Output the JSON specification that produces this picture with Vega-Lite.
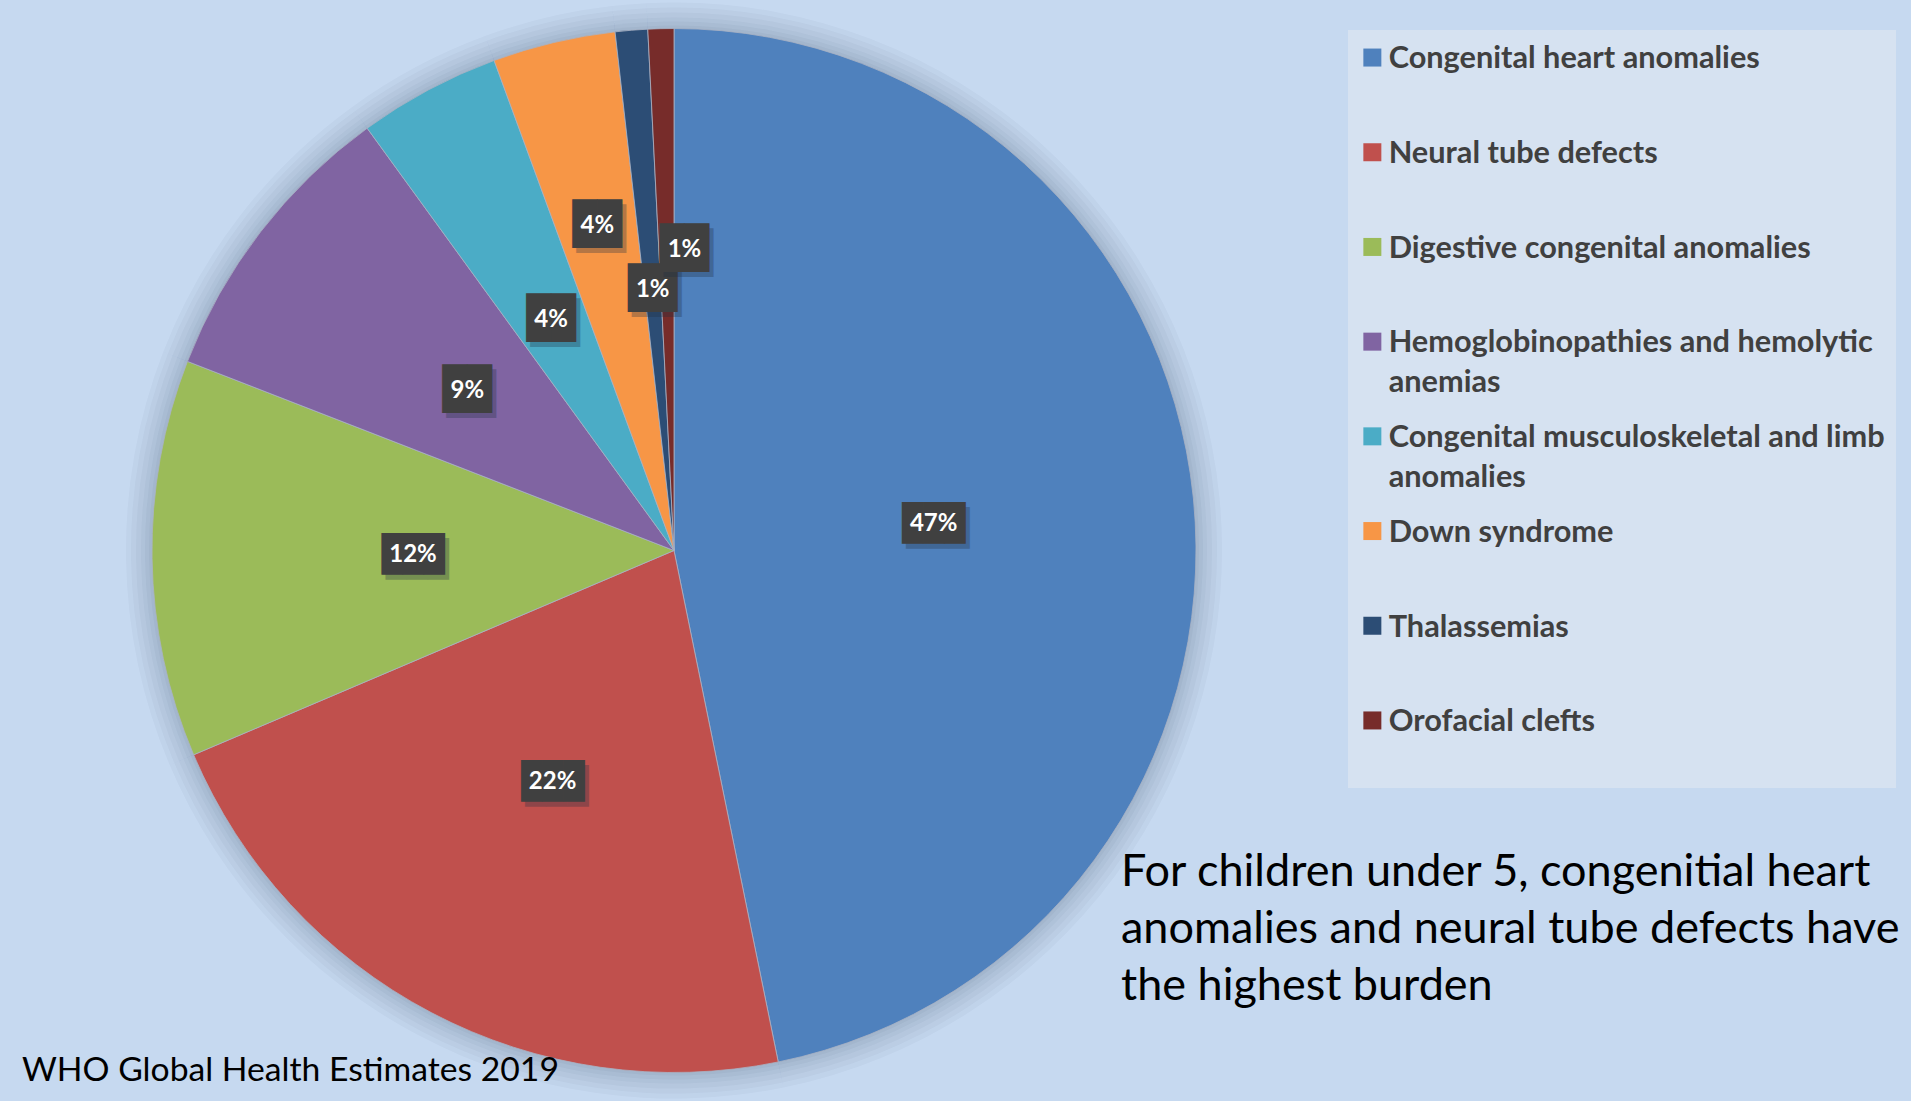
{
  "$schema": "https://vega.github.io/schema/vega-lite/v6.json",
  "width": 1348,
  "height": 1101,
  "autosize": {"type": "none"},
  "padding": {"left": 0, "top": 0, "right": 563, "bottom": 0},
  "background": "#c6d9f0",
  "config": {"view": {"stroke": null}, "style": {"guide-label": {"lineHeight": 40}}},
  "datasets": {
    "causes": [
      {"cause": "Congenital heart anomalies", "share": 0.468, "rank": 1},
      {"cause": "Neural tube defects", "share": 0.218, "rank": 2},
      {"cause": "Digestive congenital anomalies", "share": 0.123, "rank": 3},
      {"cause": "Hemoglobinopathies and hemolytic anemias", "share": 0.091, "rank": 4},
      {"cause": "Congenital musculoskeletal and limb anomalies", "share": 0.044, "rank": 5},
      {"cause": "Down syndrome", "share": 0.038, "rank": 6},
      {"cause": "Thalassemias", "share": 0.010, "rank": 7},
      {"cause": "Orofacial clefts", "share": 0.008, "rank": 8}
    ]
  },
  "data": {"name": "causes"},
  "layer": [
    {
      "mark": {"type": "arc", "outerRadius": 548, "color": "#1c2c48", "opacity": 0.03},
      "encoding": {
        "theta": {"field": "share", "type": "quantitative", "stack": true},
        "order": {"field": "rank", "type": "quantitative"}
      }
    },
    {
      "mark": {"type": "arc", "outerRadius": 543, "color": "#1c2c48", "opacity": 0.03},
      "encoding": {
        "theta": {"field": "share", "type": "quantitative", "stack": true},
        "order": {"field": "rank", "type": "quantitative"}
      }
    },
    {
      "mark": {"type": "arc", "outerRadius": 538, "color": "#1c2c48", "opacity": 0.035},
      "encoding": {
        "theta": {"field": "share", "type": "quantitative", "stack": true},
        "order": {"field": "rank", "type": "quantitative"}
      }
    },
    {
      "mark": {"type": "arc", "outerRadius": 533, "color": "#1c2c48", "opacity": 0.035},
      "encoding": {
        "theta": {"field": "share", "type": "quantitative", "stack": true},
        "order": {"field": "rank", "type": "quantitative"}
      }
    },
    {
      "mark": {"type": "arc", "outerRadius": 529, "color": "#1c2c48", "opacity": 0.04},
      "encoding": {
        "theta": {"field": "share", "type": "quantitative", "stack": true},
        "order": {"field": "rank", "type": "quantitative"}
      }
    },
    {
      "mark": {"type": "arc", "outerRadius": 525, "color": "#1c2c48", "opacity": 0.04},
      "encoding": {
        "theta": {"field": "share", "type": "quantitative", "stack": true},
        "order": {"field": "rank", "type": "quantitative"}
      }
    },
    {
      "mark": {"type": "arc", "outerRadius": 522, "stroke": "#a9b3c4", "strokeWidth": 0.8},
      "encoding": {
        "theta": {"field": "share", "type": "quantitative", "stack": true},
        "order": {"field": "rank", "type": "quantitative"},
        "color": {
          "field": "cause",
          "type": "nominal",
          "scale": {
            "domain": ["Congenital heart anomalies", "Neural tube defects", "Digestive congenital anomalies", "Hemoglobinopathies and hemolytic anemias", "Congenital musculoskeletal and limb anomalies", "Down syndrome", "Thalassemias", "Orofacial clefts"],
            "range": ["#4f81bd", "#c0504d", "#9bbb59", "#8064a2", "#4bacc6", "#f79646", "#2c4d75", "#772c2a"]
          },
          "legend": {
            "title": " ",
            "titleFontSize": 2,
            "titlePadding": 10,
            "orient": "none",
            "legendX": 1348,
            "legendY": 30,
            "direction": "vertical",
            "fillColor": "#d6e2f1",
            "padding": 11,
            "rowPadding": 22.7,
            "symbolType": "M-1,-2.2L1,-2.2L1,-0.2L-1,-0.2Z",
            "symbolSize": 324,
            "symbolOffset": -2,
            "symbolStrokeWidth": 0,
            "symbolOpacity": 1,
            "labelFont": "Lato",
            "labelFontWeight": "bold",
            "labelFontSize": 30.7,
            "labelColor": "#404040",
            "labelLimit": 800,
            "labelOffset": 1,
            "labelBaseline": "alphabetic",
            "labelExpr": "datum.label === 'Hemoglobinopathies and hemolytic anemias' ? ['Hemoglobinopathies and hemolytic', 'anemias'] : datum.label === 'Congenital musculoskeletal and limb anomalies' ? ['Congenital musculoskeletal and limb', 'anomalies'] : [datum.label, ' ']"
          }
        }
      }
    },
    {
      "mark": {"type": "text", "radius": 261, "font": "DejaVu Sans Mono", "baseline": "middle", "align": "center", "color": "#1f2d40", "dx": 4, "dy": 5},
      "encoding": {
        "theta": {"field": "share", "type": "quantitative", "stack": true},
        "order": {"field": "rank", "type": "quantitative"},
        "text": {"condition": {"test": "datum.share >= 0.095", "value": "███"}, "value": "██"},
        "size": {"condition": {"test": "datum.share >= 0.095", "value": 35}, "value": 41},
        "opacity": {"condition": {"test": "datum.cause === 'Down syndrome' || datum.cause === 'Orofacial clefts'", "value": 0}, "value": 0.3}
      }
    },
    {
      "mark": {"type": "text", "radius": 261, "font": "DejaVu Sans Mono", "baseline": "middle", "align": "center", "color": "#404040"},
      "encoding": {
        "theta": {"field": "share", "type": "quantitative", "stack": true},
        "order": {"field": "rank", "type": "quantitative"},
        "text": {"condition": {"test": "datum.share >= 0.095", "value": "███"}, "value": "██"},
        "size": {"condition": {"test": "datum.share >= 0.095", "value": 35}, "value": 41},
        "opacity": {"condition": {"test": "datum.cause === 'Down syndrome' || datum.cause === 'Orofacial clefts'", "value": 0}, "value": 1}
      }
    },
    {
      "mark": {"type": "text", "radius": 261, "font": "Lato", "fontWeight": "bold", "fontSize": 24, "baseline": "middle", "align": "center", "color": "#ffffff"},
      "encoding": {
        "theta": {"field": "share", "type": "quantitative", "stack": true},
        "order": {"field": "rank", "type": "quantitative"},
        "text": {"field": "share", "type": "quantitative", "format": ".0%"},
        "opacity": {"condition": {"test": "datum.cause === 'Down syndrome' || datum.cause === 'Orofacial clefts'", "value": 0}, "value": 1}
      }
    },
    {
      "mark": {"type": "text", "radius": 333, "font": "DejaVu Sans Mono", "fontSize": 41, "baseline": "middle", "align": "center", "color": "#1f2d40", "dx": 4, "dy": 5, "text": "██"},
      "encoding": {
        "theta": {"field": "share", "type": "quantitative", "stack": true},
        "order": {"field": "rank", "type": "quantitative"},
        "opacity": {"condition": {"test": "datum.cause === 'Down syndrome'", "value": 0.3}, "value": 0}
      }
    },
    {
      "mark": {"type": "text", "radius": 333, "font": "DejaVu Sans Mono", "fontSize": 41, "baseline": "middle", "align": "center", "color": "#404040", "text": "██"},
      "encoding": {
        "theta": {"field": "share", "type": "quantitative", "stack": true},
        "order": {"field": "rank", "type": "quantitative"},
        "opacity": {"condition": {"test": "datum.cause === 'Down syndrome'", "value": 1}, "value": 0}
      }
    },
    {
      "mark": {"type": "text", "radius": 333, "font": "Lato", "fontWeight": "bold", "fontSize": 24, "baseline": "middle", "align": "center", "color": "#ffffff"},
      "encoding": {
        "theta": {"field": "share", "type": "quantitative", "stack": true},
        "order": {"field": "rank", "type": "quantitative"},
        "text": {"field": "share", "type": "quantitative", "format": ".0%"},
        "opacity": {"condition": {"test": "datum.cause === 'Down syndrome'", "value": 1}, "value": 0}
      }
    },
    {
      "mark": {"type": "text", "radius": 301, "font": "DejaVu Sans Mono", "fontSize": 41, "baseline": "middle", "align": "center", "color": "#1f2d40", "dx": 22, "dy": 5, "text": "██"},
      "encoding": {
        "theta": {"field": "share", "type": "quantitative", "stack": true},
        "order": {"field": "rank", "type": "quantitative"},
        "opacity": {"condition": {"test": "datum.cause === 'Orofacial clefts'", "value": 0.3}, "value": 0}
      }
    },
    {
      "mark": {"type": "text", "radius": 301, "font": "DejaVu Sans Mono", "fontSize": 41, "baseline": "middle", "align": "center", "color": "#404040", "dx": 18, "text": "██"},
      "encoding": {
        "theta": {"field": "share", "type": "quantitative", "stack": true},
        "order": {"field": "rank", "type": "quantitative"},
        "opacity": {"condition": {"test": "datum.cause === 'Orofacial clefts'", "value": 1}, "value": 0}
      }
    },
    {
      "mark": {"type": "text", "radius": 301, "font": "Lato", "fontWeight": "bold", "fontSize": 24, "baseline": "middle", "align": "center", "color": "#ffffff", "dx": 18},
      "encoding": {
        "theta": {"field": "share", "type": "quantitative", "stack": true},
        "order": {"field": "rank", "type": "quantitative"},
        "text": {"field": "share", "type": "quantitative", "format": ".0%"},
        "opacity": {"condition": {"test": "datum.cause === 'Orofacial clefts'", "value": 1}, "value": 0}
      }
    },
    {
      "data": {"values": [{"note": "WHO Global Health Estimates 2019"}]},
      "mark": {"type": "text", "align": "left", "baseline": "alphabetic", "font": "Lato", "fontSize": 33.7, "color": "#000000"},
      "encoding": {
        "text": {"field": "note", "type": "nominal"},
        "x": {"datum": 0.0163, "type": "quantitative", "scale": {"domain": [0, 1]}, "axis": null},
        "y": {"datum": 0.018, "type": "quantitative", "scale": {"domain": [0, 1]}, "axis": null}
      }
    },
    {
      "data": {"values": [{"note": "For children under 5, congenitial heart\nanomalies and neural tube defects have\nthe highest burden"}]},
      "mark": {"type": "text", "align": "left", "baseline": "alphabetic", "font": "Lato", "fontSize": 45, "lineHeight": 57, "lineBreak": "\n", "color": "#000000"},
      "encoding": {
        "text": {"field": "note", "type": "nominal"},
        "x": {"datum": 0.8316, "type": "quantitative", "scale": {"domain": [0, 1]}, "axis": null},
        "y": {"datum": 0.195, "type": "quantitative", "scale": {"domain": [0, 1]}, "axis": null}
      }
    }
  ]
}
